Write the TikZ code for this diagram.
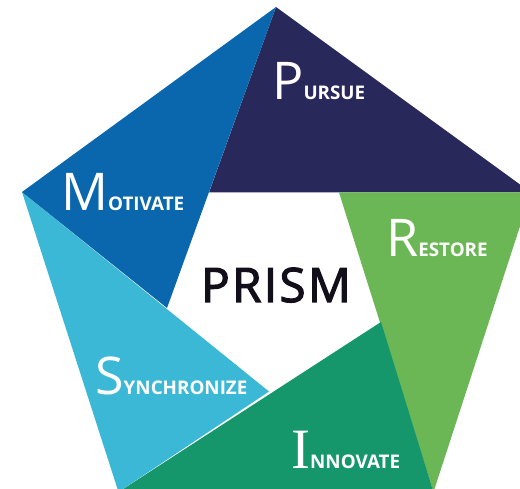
\documentclass[tikz,border=0pt]{standalone}
\usepackage{fontspec}
\setmainfont{Open Sans}
\newfontfamily\serifI{Liberation Serif}
\newfontfamily\prismfont[FakeBold=2.5,LetterSpace=5]{Open Sans}
\definecolor{pursueC}{HTML}{29285A}
\definecolor{motivateC}{HTML}{0A67AD}
\definecolor{syncC}{HTML}{3BB8D6}
\definecolor{innovC}{HTML}{16976B}
\definecolor{restoreC}{HTML}{6CB755}
\definecolor{prismC}{HTML}{120F1A}
\newcommand{\bigL}[1]{{\fontsize{52}{52}\selectfont #1}}
\newcommand{\smallL}[1]{{\fontsize{18.8}{18.8}\selectfont\bfseries #1}}
\begin{document}
\begin{tikzpicture}[x=1pt,y=-1pt,
  lab/.style={text=white, anchor=base west, inner sep=0pt}]
\useasboundingbox (0,0) rectangle (520,489);
\clip (0,0) rectangle (520,489);
% outer vertices
\coordinate (V0) at (276,7);
\coordinate (V1) at (531,192.5);
\coordinate (V2) at (433.5,492);
\coordinate (V3) at (118.5,492);
\coordinate (V4) at (22,192);
% inner points
\coordinate (Q0) at (209,192.5);
\coordinate (Q1) at (339,192.5);
\coordinate (Q2) at (381,322);
\coordinate (Q3) at (269,391.5);
\coordinate (Q4) at (167,308);
\fill[pursueC] (V0) -- (V1) -- (Q0) -- cycle;
\fill[restoreC] (V1) -- (V2) -- (Q1) -- cycle;
\fill[innovC] (V2) -- (V3) -- (Q2) -- cycle;
\fill[syncC] (V3) -- (V4) -- (Q3) -- cycle;
\fill[motivateC] (V4) -- (V0) -- (Q4) -- cycle;
\node[text=prismC, anchor=base, inner sep=0pt, font=\prismfont\fontsize{47.5}{47.5}\selectfont] (prism) at (276,302) {PRISM};
\node[lab] (pursue) at (272,100) {\bigL{P}\smallL{URSUE}};
\node[lab] (motivate) at (61,211) {\bigL{M}\smallL{OTIVATE}};
\node[lab] (restore) at (386,257) {\bigL{R}\smallL{ESTORE}};
\node[lab] (sync) at (95,395) {\bigL{S}\smallL{YNCHRONIZE}};
\node[lab] (innov) at (291,468) {{\serifI\fontsize{57}{57}\selectfont I}\smallL{NNOVATE}};
\end{tikzpicture}
\end{document}
